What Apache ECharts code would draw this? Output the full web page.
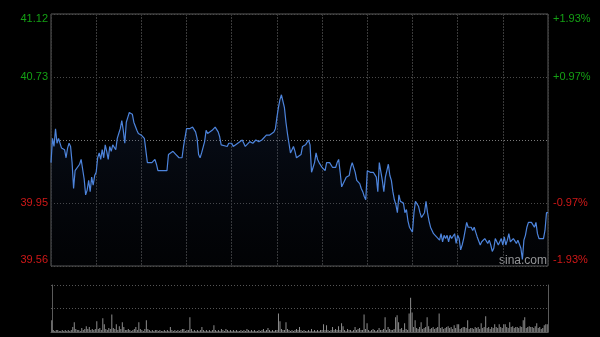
<!DOCTYPE html>
<html><head><meta charset="utf-8">
<script src="https://cdn.jsdelivr.net/npm/echarts@6/dist/echarts.min.js"></script>
<style>html,body{margin:0;padding:0;background:#000}#c{width:600px;height:337px}</style>
</head><body><div id="c"></div>
<script>
const prevClose = 40.34;
const priceTicks = [39.56, 39.95, 40.34, 40.73, 41.12];
const priceMinutes = [0,1,2,3,4,5,6,7,9,10,11,12,13,14,15,16,17,19,20,21,22,23,24,25,26,27,28,29,30,31,32,33,34,35,36,37,38,39,40,41,43,44,45,46,47,48,49,50,51,52,54,55,56,57,58,60,62,64,65,67,69,70,71,77,78,81,83,85,87,88,89,90,91,92,94,96,97,98,99,100,101,102,103,104,105,107,109,111,112,113,117,118,120,121,122,124,125,127,128,129,130,132,133,134,136,138,139,140,141,143,145,146,148,149,150,151,152,153,154,155,156,157,158,159,160,161,162,163,164,166,167,169,170,171,172,173,174,175,176,177,178,179,180,182,183,185,186,187,188,189,190,191,192,193,195,196,198,199,200,201,202,203,205,206,207,208,209,210,212,214,216,217,218,219,220,221,222,223,224,225,226,227,228,229,230,231,232,234,235,236,237,238,239,240,241,242,243,244,245,246,248,249,250,251,252,253,254,255,256,258,259,260,261,262,263,264,265,266,268,269,270,271,272,273,274,275,276,277,279,280,281,282,283,284,285,286,288,289,290,291,292,293,294,295,296,297,299,300,301,302,303,304,305,306,307,308,309,310,311,312,313,314,315,316,317,319,320,321,322,323,324,325,327,328,329,330];
const prices = [40.20,40.35,40.30,40.41,40.32,40.35,40.36,40.29,40.28,40.23,40.29,40.32,40.30,40.20,40.04,40.15,40.15,40.19,40.22,40.23,40.10,40.00,40.03,40.09,40.02,40.11,40.06,40.12,40.14,40.23,40.26,40.22,40.28,40.23,40.31,40.27,40.22,40.30,40.27,40.31,40.28,40.35,40.38,40.41,40.46,40.40,40.32,40.45,40.48,40.51,40.50,40.45,40.46,40.40,40.38,40.37,40.35,40.20,40.19,40.20,40.22,40.19,40.15,40.15,40.25,40.27,40.25,40.23,40.23,40.30,40.29,40.41,40.42,40.41,40.42,40.39,40.35,40.25,40.23,40.26,40.27,40.33,40.40,40.38,40.37,40.40,40.42,40.39,40.36,40.31,40.30,40.32,40.32,40.30,40.31,40.32,40.33,40.34,40.32,40.30,40.30,40.33,40.34,40.32,40.34,40.33,40.32,40.34,40.35,40.37,40.37,40.38,40.39,40.41,40.48,40.54,40.59,40.62,40.62,40.54,40.45,40.38,40.32,40.26,40.28,40.30,40.27,40.23,40.23,40.25,40.30,40.31,40.32,40.34,40.31,40.14,40.17,40.20,40.26,40.22,40.20,40.20,40.17,40.15,40.20,40.20,40.19,40.17,40.18,40.17,40.20,40.22,40.14,40.05,40.09,40.11,40.12,40.17,40.20,40.19,40.14,40.09,40.07,40.04,40.02,39.99,39.97,40.15,40.14,40.14,40.11,40.02,40.20,40.20,40.09,40.02,40.11,40.12,40.19,40.12,40.09,40.02,39.97,39.94,39.89,40.00,39.96,39.95,39.89,39.91,39.84,39.80,39.81,39.77,39.89,39.96,39.95,39.93,39.89,39.86,39.89,39.96,39.89,39.84,39.80,39.81,39.76,39.75,39.74,39.72,39.76,39.71,39.75,39.73,39.75,39.71,39.75,39.73,39.76,39.70,39.75,39.73,39.66,39.69,39.73,39.74,39.83,39.80,39.80,39.78,39.80,39.77,39.74,39.73,39.69,39.71,39.73,39.73,39.70,39.72,39.69,39.65,39.67,39.73,39.71,39.69,39.73,39.69,39.74,39.69,39.72,39.76,39.71,39.70,39.73,39.72,39.70,39.72,39.73,39.67,39.60,39.72,39.75,39.80,39.83,39.83,39.83,39.80,39.83,39.76,39.73,39.72,39.73,39.78,39.89,39.89];
// volume per minute, minutes 0..330
const volumes = [
12,2,1,2,2,1,1,2,1,2, 1,2,1,2,5,10,3,2,2,1, 4,2,3,6,3,5,2,3,2,3, 11,3,4,2,14,8,3,2,4,3,
18,4,3,8,2,6,3,10,5,2, 2,3,2,1,2,3,5,2,10,3, 2,1,3,12,3,2,1,2,1,2, 2,1,2,1,1,2,1,2,1,5,
2,1,2,1,2,1,2,3,3,1, 2,2,15,3,1,2,1,2,1,2, 5,2,1,2,1,2,1,2,7,2, 1,2,1,3,2,1,3,2,1,2,
1,2,1,2,1,1,2,1,2,1, 3,2,1,2,1,2,1,1,2,1, 2,3,1,2,4,2,1,2,1,2, 2,19,11,3,2,2,10,3,2,1,
2,1,2,3,2,5,2,1,2,1, 1,2,1,3,1,2,1,2,1,2, 2,8,2,7,2,1,2,5,2,3, 2,6,2,9,6,2,1,3,2,2,
1,2,5,2,3,4,2,2,18,3, 9,2,1,2,3,2,1,2,4,2, 2,3,15,2,5,3,2,2,3,15, 17,10,3,4,2,9,3,2,19,35,
20,5,12,4,3,5,10,3,4,5, 15,6,3,4,5,3,4,5,19,4, 5,3,4,5,6,4,5,3,7,4, 8,8,3,4,5,5,4,12,3,4,
4,3,5,4,5,3,9,4,5,16, 4,5,3,5,4,8,5,4,8,5, 4,8,8,5,4,10,5,6,4,5, 5,4,6,5,12,15,4,5,6,5,
5,4,6,9,4,5,3,4,7,8, 8];

const priceData = priceMinutes.map((m, i) => [m, prices[i]]);
const volData = volumes.map((v, i) => [i, v]);

const FONT = '"Liberation Sans", Arial, sans-serif';
function shiftRich(v) {
  const top = Math.abs(v - priceTicks[priceTicks.length - 1]) < 0.001;
  const bot = Math.abs(v - priceTicks[0]) < 0.001;
  const up = v > prevClose + 0.001;
  return (up ? 'g' : 'r') + (top ? 'T' : bot ? 'B' : 'M');
}
const rich = {
  gT: {color: '#14a014', fontSize: 11, fontFamily: FONT, padding: [10, 0, 0, 0]},
  gM: {color: '#14a014', fontSize: 11, fontFamily: FONT},
  gB: {color: '#14a014', fontSize: 11, fontFamily: FONT, padding: [0, 0, 12, 0]},
  rT: {color: '#d01818', fontSize: 11, fontFamily: FONT, padding: [10, 0, 0, 0]},
  rM: {color: '#d01818', fontSize: 11, fontFamily: FONT},
  rB: {color: '#d01818', fontSize: 11, fontFamily: FONT, padding: [0, 0, 12, 0]}
};

const chart = echarts.init(document.getElementById('c'), null, {renderer: 'canvas'});
chart.setOption({
  backgroundColor: '#000',
  animation: false,
  grid: [
    {left: 51, right: 52, top: 14, height: 252, show: true, borderColor: '#5a5a5a', borderWidth: 1, backgroundColor: 'transparent'},
    {left: 51, right: 52, top: 285, height: 47}
  ],
  xAxis: [
    {type: 'value', gridIndex: 0, min: 0, max: 330, interval: 30,
     axisLine: {show: false}, axisTick: {show: false}, axisLabel: {show: false},
     splitLine: {show: true, lineStyle: {color: '#3a3a3a', type: [2, 1], width: 1}}},
    {type: 'value', gridIndex: 1, min: -0.5, max: 330.5,
     axisLine: {show: true, onZero: false, lineStyle: {color: '#5a5a5a'}}, axisTick: {show: false}, axisLabel: {show: false},
     splitLine: {show: false}}
  ],
  yAxis: [
    {type: 'value', gridIndex: 0, position: 'left', min: priceTicks[0], max: priceTicks[4], interval: 0.39,
     axisLine: {show: false}, axisTick: {show: false},
     axisLabel: {margin: 3, formatter: v => Math.abs(v - prevClose) < 0.001 ? '' : '{' + shiftRich(v) + '|' + v.toFixed(2) + '}', rich: rich},
     splitLine: {show: true, lineStyle: {color: ['#4a4a4a', '#4a4a4a', '#7a7a7a', '#4a4a4a', '#4a4a4a'], type: [1, 2]}}},
    {type: 'value', gridIndex: 0, position: 'right', min: priceTicks[0], max: priceTicks[4], interval: 0.39,
     axisLine: {show: false}, axisTick: {show: false}, splitLine: {show: false},
     axisLabel: {margin: 5, formatter: v => {
       if (Math.abs(v - prevClose) < 0.001) return '';
       const pct = (v - prevClose) / prevClose * 100;
       return '{' + shiftRich(v) + '|' + (pct > 0 ? '+' : '') + pct.toFixed(2) + '%}';
     }, rich: rich}},
    {type: 'value', gridIndex: 1, position: 'left', min: 0, max: 48, interval: 24,
     axisLine: {show: true, lineStyle: {color: '#5a5a5a'}}, axisTick: {show: false}, axisLabel: {show: false},
     splitLine: {show: true, lineStyle: {color: '#555', type: [1, 2]}}},
    {type: 'value', gridIndex: 1, position: 'right', min: 0, max: 48, interval: 24,
     axisLine: {show: true, lineStyle: {color: '#5a5a5a'}}, axisTick: {show: false}, axisLabel: {show: false},
     splitLine: {show: false}}
  ],
  series: [
    {type: 'line', xAxisIndex: 0, yAxisIndex: 0, data: priceData, symbol: 'none', smooth: false,
     lineStyle: {color: '#4d84dc', width: 1.2},
     areaStyle: {origin: 'start', color: new echarts.graphic.LinearGradient(0, 0, 0, 1, [
       {offset: 0, color: 'rgba(40,70,130,0.30)'},
       {offset: 1, color: 'rgba(20,30,55,0.12)'}
     ])}},
    {type: 'bar', xAxisIndex: 1, yAxisIndex: 2, data: volData, barWidth: 1,
     itemStyle: {color: '#8c8c8c'}}
  ],
  graphic: [
    {type: 'text', left: 499, top: 255, style: {text: 'sina.com', fill: '#a0a0a0', font: '12px ' + FONT}}
  ]
});
</script>
</body></html>
